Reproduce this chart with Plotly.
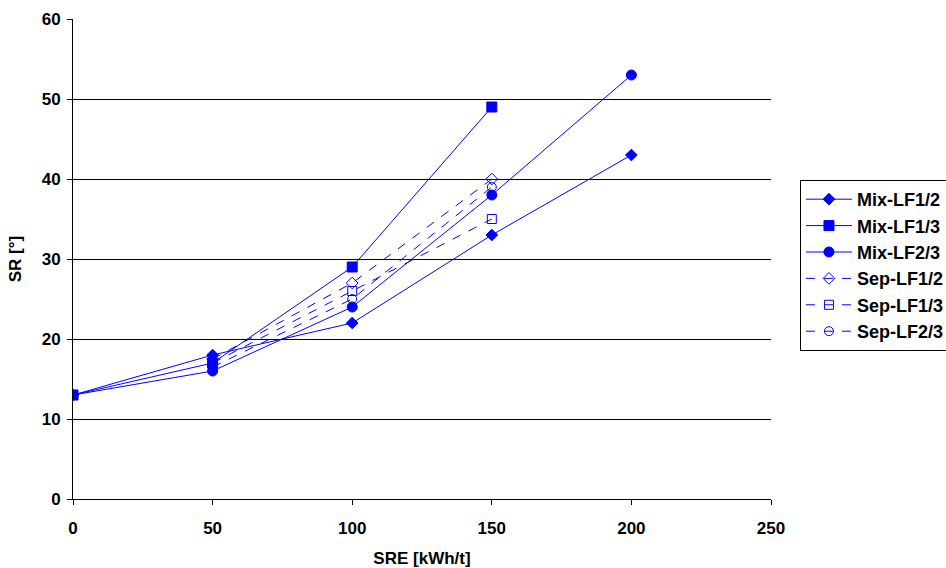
import plotly.graph_objects as go

x_mix12 = [0, 50, 100, 150, 200]
y_mix12 = [13, 18, 22, 33, 43]
x_mix13 = [0, 50, 100, 150]
y_mix13 = [13, 17, 29, 49]
x_mix23 = [0, 50, 100, 150, 200]
y_mix23 = [13, 16, 24, 38, 53]
x_sep12 = [50, 100, 150]
y_sep12 = [17.5, 27, 40]
x_sep13 = [50, 100, 150]
y_sep13 = [17, 26, 35]
x_sep23 = [50, 100, 150]
y_sep23 = [16.5, 25, 39]

names = ["Mix-LF1/2", "Mix-LF1/3", "Mix-LF2/3", "Sep-LF1/2", "Sep-LF1/3", "Sep-LF2/3"]
xs = [x_mix12, x_mix13, x_mix23, x_sep12, x_sep13, x_sep23]
ys = [y_mix12, y_mix13, y_mix23, y_sep12, y_sep13, y_sep23]
symbols = ["diamond", "square", "circle", "diamond-open", "square-open", "circle-open"]
sizes = [9, 10, 10, 9, 9, 9]
dashes = ["solid", "solid", "solid", "dash", "dash", "dash"]

BLUE = "#0000FF"
FAM = "Liberation Sans, Arial, sans-serif"
fig = go.Figure()
for i, n in enumerate(names):
    fig.add_trace(go.Scatter(
        x=xs[i], y=ys[i], name=n, mode="lines+markers",
        line=dict(color=BLUE, width=1, dash=dashes[i]),
        marker=dict(symbol=symbols[i], size=sizes[i], color=BLUE,
                    line=dict(color=BLUE, width=1)),
    ))

fig.update_layout(
    width=946, height=568,
    margin=dict(l=73, r=175, t=19, b=69, autoexpand=False),
    paper_bgcolor="white", plot_bgcolor="white",
    font=dict(family=FAM, size=17, color="black"),
    showlegend=True,
    legend=dict(x=1.0415, y=0.6646, xanchor="left", yanchor="top",
                bordercolor="black", borderwidth=1, bgcolor="white",
                font=dict(family=FAM, size=18, color="black", weight="bold"),
                itemwidth=46),
    xaxis=dict(range=[0, 250], dtick=50, showgrid=False, zeroline=False,
               showline=True, linecolor="black", linewidth=1, automargin=False,
               ticks="outside", ticklen=5, tickcolor="black", ticklabelstandoff=9,
               tickfont=dict(family=FAM, size=17, weight="bold"),
               title=dict(text="<b>SRE [kWh/t]</b>", font=dict(family=FAM, size=17), standoff=21)),
    yaxis=dict(range=[0, 60], dtick=10, showgrid=True, gridcolor="black", gridwidth=1,
               zeroline=False, showline=True, linecolor="black", linewidth=1, automargin=False,
               ticks="outside", ticklen=5, tickcolor="black", ticklabelstandoff=3,
               tickfont=dict(family=FAM, size=17, weight="bold"),
               title=dict(text="<b>SR [°]</b>", font=dict(family=FAM, size=17), standoff=15)),
)
fig.write_html("out.html",
               config={"displayModeBar": False},
               post_script="document.body.style.margin='0';document.body.style.overflow='hidden';")
